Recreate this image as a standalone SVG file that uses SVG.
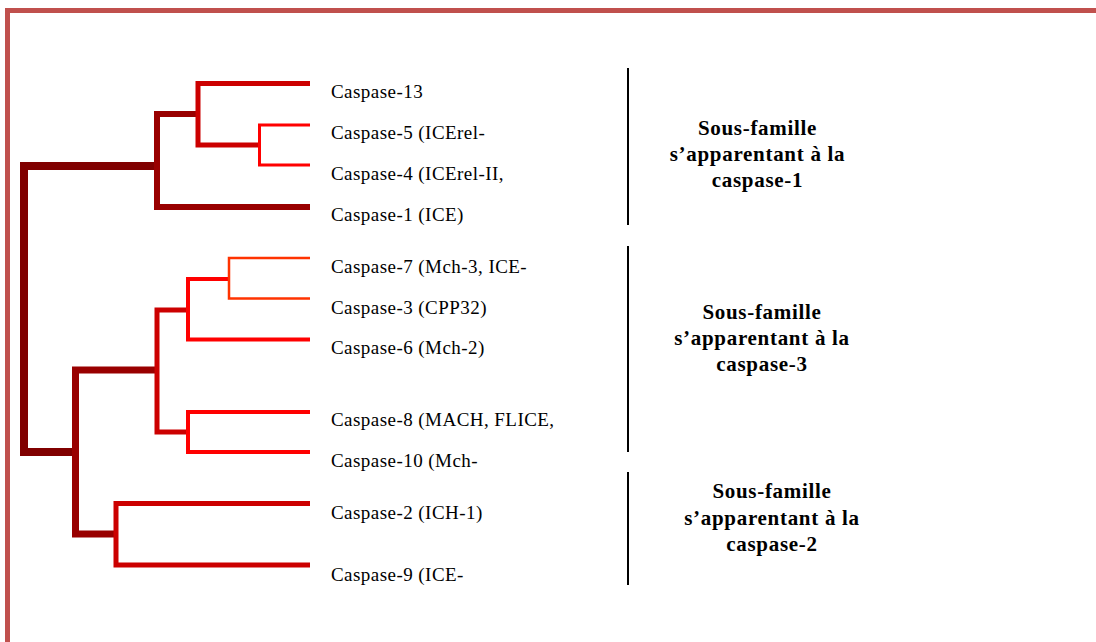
<svg xmlns="http://www.w3.org/2000/svg" width="1096" height="642" viewBox="0 0 1096 642">
<style>
.lbl{font-family:"Liberation Serif","Times New Roman",serif;font-size:19px;letter-spacing:0.45px;fill:#000}
.grp{font-family:"Liberation Serif","Times New Roman",serif;font-size:21px;font-weight:bold;letter-spacing:0.7px;fill:#000;text-anchor:middle}
.br{fill:none;stroke-linejoin:miter;stroke-linecap:butt}
.sep{stroke:#000;stroke-width:2}
</style>
<rect width="1096" height="642" fill="#fff"/>
<g id="border" fill="none" stroke="#C0504D" stroke-width="5">
<path d="M1096,10.5 H7.5 V642"/>
</g>
<g id="connectors" class="br">
<path d="M157,166 H24 V452 H75.5" stroke="#800000" stroke-width="8"/>
<path d="M198,114 H157 V207 H310" stroke="#990000" stroke-width="6"/>
<path d="M157,370 H75.5 V534 H116" stroke="#990000" stroke-width="7"/>
<path d="M310,83.5 H198 V145 H259.5" stroke="#CC0000" stroke-width="5"/>
<path d="M310,125 H259.5 V165 H310" stroke="#FF0000" stroke-width="3"/>
<path d="M188,310 H157 V432 H188" stroke="#CC0000" stroke-width="5"/>
<path d="M229,279 H188 V339.5 H310" stroke="#FF0000" stroke-width="4"/>
<path d="M310,258 H229 V298.5 H310" stroke="#FF3300" stroke-width="2.5"/>
<path d="M310,412 H188 V452 H310" stroke="#FF0000" stroke-width="4"/>
<path d="M310,503.5 H116 V565 H310" stroke="#CC0000" stroke-width="5"/>
</g>
<g id="leaf-casp13"><text class="lbl" x="331" y="97.5">Caspase-13</text></g>
<g id="leaf-casp5"><text class="lbl" x="331" y="138.5">Caspase-5 (ICErel-</text></g>
<g id="leaf-casp4"><text class="lbl" x="331" y="179.5">Caspase-4 (ICErel-II,</text></g>
<g id="leaf-casp1"><text class="lbl" x="331" y="220.5">Caspase-1 (ICE)</text></g>
<g id="leaf-casp7"><text class="lbl" x="331" y="272.5">Caspase-7 (Mch-3, ICE-</text></g>
<g id="leaf-casp3"><text class="lbl" x="331" y="313.5">Caspase-3 (CPP32)</text></g>
<g id="leaf-casp6"><text class="lbl" x="331" y="354">Caspase-6 (Mch-2)</text></g>
<g id="leaf-casp8"><text class="lbl" x="331" y="426">Caspase-8 (MACH, FLICE,</text></g>
<g id="leaf-casp10"><text class="lbl" x="331" y="467">Caspase-10 (Mch-</text></g>
<g id="leaf-casp2"><text class="lbl" x="331" y="518.5">Caspase-2 (ICH-1)</text></g>
<g id="leaf-casp9"><text class="lbl" x="331" y="580.5">Caspase-9 (ICE-</text></g>
<g id="family-1">
<line class="sep" x1="628" y1="68" x2="628" y2="225"/>
<text class="grp" x="757.5" y="135">Sous-famille</text>
<text class="grp" x="757.5" y="161">s’apparentant à la</text>
<text class="grp" x="757.5" y="187">caspase-1</text>
</g>
<g id="family-3">
<line class="sep" x1="628" y1="246" x2="628" y2="452"/>
<text class="grp" x="762" y="319">Sous-famille</text>
<text class="grp" x="762" y="345">s’apparentant à la</text>
<text class="grp" x="762" y="371">caspase-3</text>
</g>
<g id="family-2">
<line class="sep" x1="628" y1="472" x2="628" y2="585"/>
<text class="grp" x="772" y="498">Sous-famille</text>
<text class="grp" x="772" y="525">s’apparentant à la</text>
<text class="grp" x="772" y="551">caspase-2</text>
</g>
</svg>
